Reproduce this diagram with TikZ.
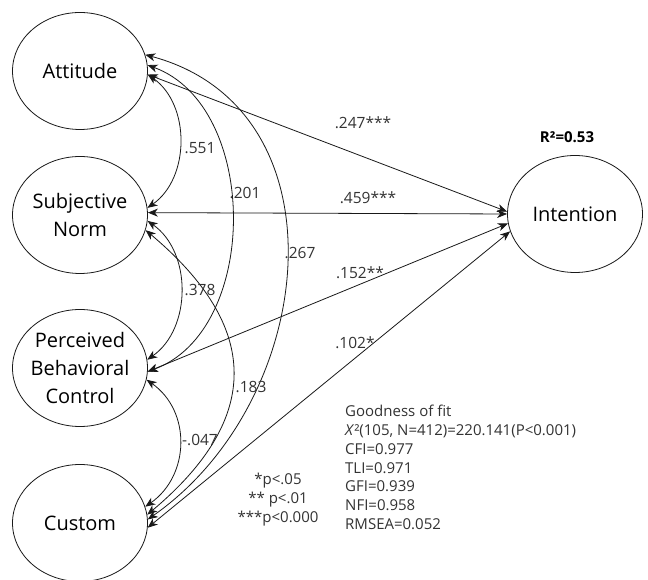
\documentclass[tikz,border=0pt]{standalone}
\usepackage{fontspec}
\setmainfont{Open Sans}
\usetikzlibrary{shapes.geometric,arrows.meta}
\definecolor[named]{drawColor}{rgb}{0.10,0.10,0.10}
\definecolor[named]{textColor}{rgb}{0.20,0.20,0.20}

\begin{document}
\begin{tikzpicture}[x=1pt,y=1pt,
  latent/.style={draw=drawColor,ellipse,line width=0.8pt,minimum width=135pt,
    minimum height=117pt,inner sep=-6pt,align=center,text=black,
    font=\fontsize{20}{28}\selectfont},
  semPath/.style={draw=drawColor,line width=0.8pt,<->,
    >={Stealth[length=10pt,width=8pt,inset=3pt]}},
  coef/.style={text=textColor,inner sep=0pt,font=\fontsize{15.5}{18}\selectfont},
  fitNote/.style={text=textColor,inner sep=0pt,font=\fontsize{15}{18.8}\selectfont}]
\path[use as bounding box,fill=white] (0,0) rectangle (648,580);

\node[latent] (att) at ( 80,509) {Attitude};
\node[latent] (sn)  at ( 80,365) {Subjective\\Norm};
\node[latent] (pbc) at ( 80,212) {Perceived\\Behavioral\\Control};
\node[latent] (cus) at ( 80, 57) {Custom};
\node[latent] (int) at (575,366) {Intention};

\draw[semPath] (att.-3)  -- (int.178);
\draw[semPath] (sn.2)    -- (int.180);
\draw[semPath] (pbc.-3)  -- (int.188);
\draw[semPath] (cus.-4)  -- (int.195);

\draw[semPath] (att.-3)  to[out=-35,in=35,looseness=1.0]  (sn.6);
\draw[semPath] (att.5)   to[out=-20,in=20,looseness=1.0]  (pbc.-3);
\draw[semPath] (att.14)  to[out=-15,in=35,looseness=1.15] (cus.3);
\draw[semPath] (sn.-5)   to[out=-35,in=35,looseness=1.0]  (pbc.7);
\draw[semPath] (sn.-13)  to[out=-40,in=40,looseness=1.35] (cus.7);
\draw[semPath] (pbc.-10) to[out=-35,in=35,looseness=1.1]  (cus.14);

\node[coef] (r551) at (200,432) {.551};
\node[coef] (r201) at (245,387) {.201};
\node[coef] (r267) at (300,327) {.267};
\node[coef] (r378) at (200,290) {.378};
\node[coef] (r183) at (251,193) {.183};
\node[coef] (r047) at (200,140) {-.047};

\node[coef] (b247) at (363,457) {.247***};
\node[coef] (b459) at (368,382) {.459***};
\node[coef] (b152) at (360,307) {.152**};
\node[coef] (b102) at (355,237) {.102*};

\node[coef,text=black,font=\fontsize{15}{18}\selectfont\bfseries] (rsq) at (567,443) {R²=0.53};

\node[fitNote,align=center,anchor=north] (pnote) at (278,107)
  {*p<.05\\** p<.01\\***p<0.000};
\node[fitNote,align=left,anchor=north west] (gof) at (345,175)
  {Goodness of fit\\\textit{X}²(105, N=412)=220.141(P<0.001)\\CFI=0.977\\TLI=0.971\\GFI=0.939\\NFI=0.958\\RMSEA=0.052};
\end{tikzpicture}
\end{document}
